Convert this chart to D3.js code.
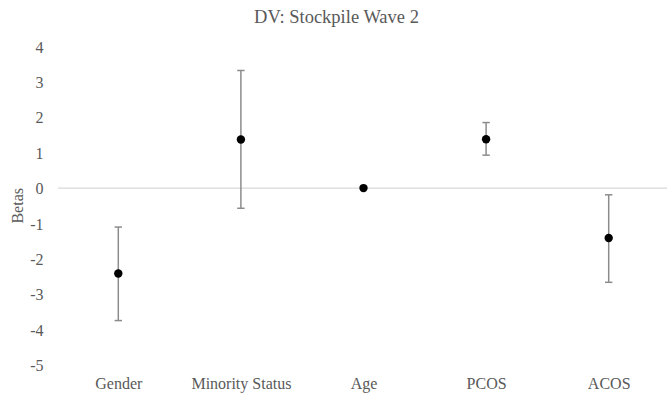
<!DOCTYPE html>
<html>
<head>
<meta charset="utf-8">
<script src="https://cdn.jsdelivr.net/npm/d3@7"></script>
<style>
  body { margin: 0; background: #fff; }
  svg { display: block; }
  text { font-family: "Liberation Serif", "Times New Roman", serif; fill: #595959; }
</style>
</head>
<body>
<svg id="chart" width="667" height="397"></svg>
<script>
const categories = ["Gender", "Minority Status", "Age", "PCOS", "ACOS"];
const betas = [-2.41, 1.37, 0.0, 1.38, -1.41];
const upper = [-1.10, 3.32, 0.0, 1.85, -0.19];
const lower = [-3.74, -0.57, 0.0, 0.93, -2.66];
const yTicks = [4, 3, 2, 1, 0, -1, -2, -3, -4, -5];
const title = "DV: Stockpile Wave 2";
const yLabel = "Betas";

const svg = d3.select("#chart");
const mLeft = 57, mRight = 670, mTop = 46.4, mBottom = 365.2;
const serif = '"Liberation Serif", "Times New Roman", serif';

const x = d3.scalePoint().domain(categories).range([mLeft, mRight]).padding(0.5);
const y = d3.scaleLinear().domain([-5, 4]).range([mBottom, mTop]);

// title
svg.append("text")
  .attr("x", 336.5).attr("y", 23)
  .attr("text-anchor", "middle")
  .style("font-size", "18.5px")
  .text(title);

// y axis label
svg.append("text")
  .attr("transform", `translate(22.5,${(mTop + mBottom) / 2}) rotate(-90)`)
  .attr("text-anchor", "middle")
  .style("font-size", "16px")
  .text(yLabel);

// y axis (labels only)
const yAxis = d3.axisLeft(y).tickValues(yTicks).tickSize(0).tickPadding(0).tickFormat(d => String(d));
const gy = svg.append("g").attr("transform", `translate(43.5,0)`).call(yAxis)
  .attr("font-family", serif).attr("font-size", 16);
gy.select(".domain").remove();
gy.selectAll("text")
  .style("font-family", serif)
  .style("font-size", "16px")
  .attr("fill", "#595959")
  .attr("dy", "0.35em");

// zero line
svg.append("line")
  .attr("x1", mLeft + 1).attr("x2", mRight)
  .attr("y1", y(0)).attr("y2", y(0))
  .attr("stroke", "#d9d9d9").attr("stroke-width", 1.2);

// x axis labels
const xAxis = d3.axisBottom(x).tickSize(0).tickPadding(0);
const gx = svg.append("g").attr("transform", `translate(0,${mBottom + 12})`).call(xAxis)
  .attr("font-family", serif).attr("font-size", 16);
gx.select(".domain").remove();
gx.selectAll("text")
  .style("font-family", serif)
  .style("font-size", "16px")
  .attr("fill", "#595959")
  .attr("dy", "0.71em");

const data = categories.map((c, i) => ({ c, v: betas[i], hi: upper[i], lo: lower[i] }));

// error bars
const eb = svg.append("g").attr("stroke", "#8c8c8c").attr("stroke-width", 1.5)
  .selectAll("g").data(data.filter(d => d.hi !== d.lo)).join("g");
eb.append("line")
  .attr("x1", d => x(d.c)).attr("x2", d => x(d.c))
  .attr("y1", d => y(d.hi)).attr("y2", d => y(d.lo));
eb.append("line")
  .attr("x1", d => x(d.c) - 3.7).attr("x2", d => x(d.c) + 3.7)
  .attr("y1", d => y(d.hi)).attr("y2", d => y(d.hi));
eb.append("line")
  .attr("x1", d => x(d.c) - 3.7).attr("x2", d => x(d.c) + 3.7)
  .attr("y1", d => y(d.lo)).attr("y2", d => y(d.lo));

// points
svg.append("g").selectAll("circle").data(data).join("circle")
  .attr("cx", d => x(d.c)).attr("cy", d => y(d.v))
  .attr("r", 4.2).attr("fill", "#000");
</script>
</body>
</html>
